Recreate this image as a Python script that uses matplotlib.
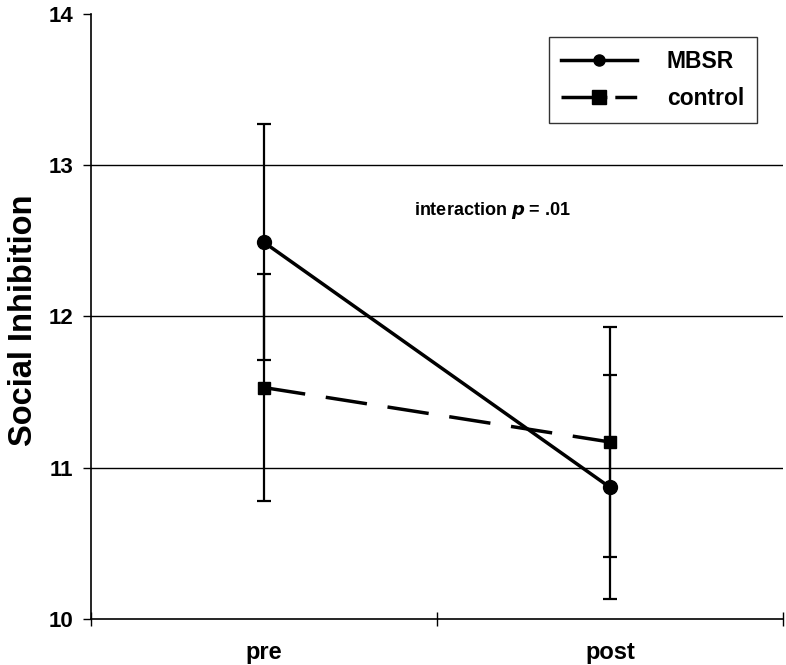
import matplotlib
matplotlib.use("Agg")
import matplotlib.pyplot as plt
from matplotlib.lines import Line2D

# données
sessions = ["pre", "post"]
mbsr_mean = [12.49, 10.87]
mbsr_err = [0.78, 0.74]
control_mean = [11.53, 11.17]
control_err = [0.75, 0.76]
y_ticks = [10, 11, 12, 13, 14]

plt.rcParams["font.family"] = ["Liberation Sans", "DejaVu Sans"]
plt.rcParams["font.weight"] = "bold"

fig = plt.figure(figsize=(7.86, 6.65), dpi=100)
ax = fig.add_axes([0.1158, 0.0692, 0.8804, 0.9098])

x = [0.5, 1.5]
dash = (0, (12, 6))

# lignes de grille horizontales
for yv in y_ticks[1:-1]:
    ax.axhline(yv, color="black", lw=1.0, zorder=0)

ax.errorbar(x, mbsr_mean, yerr=mbsr_err, color="black", lw=2.5, marker="o",
            ms=10, ecolor="black", elinewidth=1.6, capsize=5, capthick=1.6,
            zorder=3)
ax.errorbar(x, control_mean, yerr=control_err, color="black", lw=2.5,
            ls=dash, marker="s", ms=9, ecolor="black", elinewidth=1.6,
            capsize=5, capthick=1.6, zorder=3)

ax.text(1.16, 12.70, "interaction $\\bfit{p}$ = .01", ha="center", va="center",
        fontsize=13, fontweight="bold")

ax.set_xlim(0, 2)
ax.set_ylim(10, 14)
ax.set_xticks([0, 1, 2])
ax.set_xticklabels([])
ax.set_xticks(x, minor=True)
ax.set_xticklabels(sessions, minor=True, fontsize=17, fontweight="bold")
ax.tick_params(axis="x", which="minor", length=0, pad=16)
ax.tick_params(axis="x", which="major", direction="inout", length=10, width=1)
ax.set_yticks(y_ticks)
ax.set_yticklabels([str(v) for v in y_ticks], fontsize=16, fontweight="bold")
ax.tick_params(axis="y", direction="out", length=6, width=1, pad=7)

ax.spines["top"].set_visible(False)
ax.spines["right"].set_visible(False)
ax.spines["left"].set_linewidth(1.2)
ax.spines["bottom"].set_linewidth(1.2)

ax.set_ylabel("Social Inhibition", fontsize=23.5, fontweight="bold")
ax.yaxis.set_label_coords(-0.075, 0.494)

# légende : ligne + marqueur, sans les barres d'erreur
# (tirets de la légende ajustés pour ressembler à l'original)
handles = [
    Line2D([], [], color="black", lw=2.5, marker="o", ms=8),
    Line2D([], [], color="black", lw=2.5, ls=(0, (13.2, 2.3, 6.3, 2)),
           marker="s", ms=10),
]
leg = ax.legend(handles, ["MBSR", "control"], loc="upper right",
                bbox_to_anchor=(0.962, 0.962), borderaxespad=0, frameon=True,
                fancybox=False, edgecolor="black", handlelength=3.3,
                handletextpad=1.3, borderpad=0.55, labelspacing=0.65,
                prop={"weight": "bold", "size": 16.5})
leg.get_frame().set_linewidth(1.0)

fig.savefig("out.png", dpi=100)
